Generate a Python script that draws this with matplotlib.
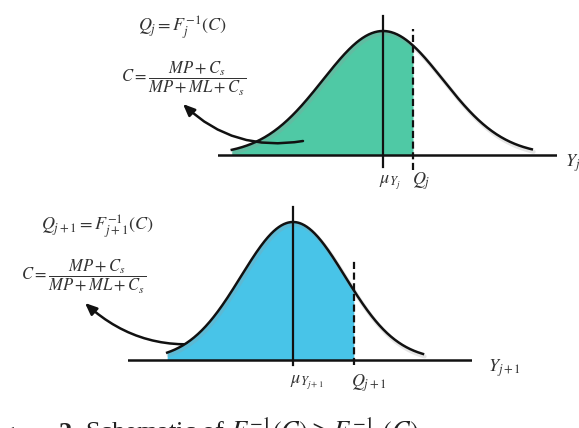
import numpy as np
import matplotlib
matplotlib.use("Agg")
import matplotlib.pyplot as plt

plt.rcParams['mathtext.fontset'] = 'stix'
plt.rcParams['font.family'] = 'DejaVu Sans'

W, H = 579, 428

# top panel: demand of period j
top_mean = 0.0
top_sd = 1.0
top_q = 0.5
top_range = (-2.52, 2.48)
top_color = '#4FC9A5'

# bottom panel: demand of period j+1
bot_mean = 0.0
bot_sd = 1.0
bot_q = 1.17
bot_range = (-2.42, 2.50)
bot_color = '#48C4E8'

ink = '#111111'
txt = '#333333'


def pdf(x, m, s):
    return np.exp(-0.5 * ((x - m) / s) ** 2) / (s * np.sqrt(2 * np.pi))


def panel(left, right, top, bottom, mu_px, base_px, sx, sy):
    # axes placed in image pixels, data scaled sx / sy px per unit
    ax = fig.add_axes([left / W, 1 - bottom / H, (right - left) / W, (bottom - top) / H])
    ax.set_xlim((left - mu_px) / sx, (right - mu_px) / sx)
    ax.set_ylim(-(bottom - base_px) / sy, (base_px - top) / sy)
    ax.axis('off')
    return ax


def draw(ax, m, s, q, rng, color, sy, mean_top, mean_bot, dash_top, dash_bot):
    x = np.linspace(rng[0], rng[1], 400)
    y = pdf(x, m, s)
    xs = x[x <= q]
    xs = np.append(xs, q)
    ax.fill_between(xs, pdf(xs, m, s), 0, color=color, lw=0, zorder=1)
    ax.plot(x + 0.03, y - 2.5 / sy, color='#999999', lw=3, alpha=0.25, zorder=1.5,
            solid_capstyle='round')
    ax.plot(x, y, color=ink, lw=1.8, zorder=3)
    ax.axhline(0, color=ink, lw=1.8, zorder=3)
    ax.plot([m, m], [mean_bot / sy, pdf(m, m, s) + mean_top / sy], color=ink, lw=1.6, zorder=3)
    ax.plot([q, q], [dash_bot / sy, pdf(q, m, s) + dash_top / sy], color=ink, lw=1.6,
            ls=(0, (3.2, 1.6)), zorder=3)


fig = plt.figure(figsize=(W / 100, H / 100), dpi=100)

# top panel
sy_top = 124 / pdf(0, 0, 1)
ax1 = panel(218, 557, 5, 185, 383, 155, 60, sy_top)
draw(ax1, top_mean, top_sd, top_q, top_range, top_color, sy_top, 15, -12, 17, -15)

# bottom panel
sy_bot = 138 / pdf(0, 0, 1)
ax2 = panel(128, 472, 195, 375, 293, 360, 52, sy_bot)
draw(ax2, bot_mean, bot_sd, bot_q, bot_range, bot_color, sy_bot, 15, -5, 29, -5)


def ftext(x, y, s, size, **kw):
    fig.text(x / W, 1 - y / H, s, fontsize=size, color=kw.pop('color', txt),
             ha=kw.pop('ha', 'center'), va=kw.pop('va', 'center'), **kw)


# formulas
ftext(182, 28, r'$Q_j = F_j^{-1}(C)$', 13)
ftext(184, 79, r'$C = \dfrac{MP + C_s}{MP + ML + C_s}$', 12)
ftext(97, 227, r'$Q_{j+1} = F_{j+1}^{-1}(C)$', 13)
ftext(84, 277, r'$C = \dfrac{MP + C_s}{MP + ML + C_s}$', 12)

# axis labels
ftext(390, 183, r'$\mu_{Y_j}$', 13)
ftext(421, 181, r'$Q_j$', 13)
ftext(565, 163, r'$Y_j$', 13, ha='left')
ftext(307, 383, r'$\mu_{Y_{j+1}}$', 13)
ftext(369, 383, r'$Q_{j+1}$', 13)
ftext(488, 368, r'$Y_{j+1}$', 13, ha='left')

# arrows from the shaded area back to the formulas
arrow = dict(arrowstyle='-|>,head_length=0.7,head_width=0.3', color=ink, lw=1.8,
             connectionstyle='arc3,rad=-0.25', shrinkA=0, shrinkB=0)
ax1.annotate('', xy=(183, H - 104), xycoords='figure pixels',
             xytext=(303, H - 141), textcoords='figure pixels', arrowprops=arrow)
ax1.annotate('', xy=(85, H - 303), xycoords='figure pixels',
             xytext=(220, H - 341), textcoords='figure pixels', arrowprops=arrow)

# caption, cut by the lower edge as in the source
fig.text(79 / W, 1 - 440 / H, 'Figure 2.', fontsize=19, family='Liberation Serif',
         weight='bold', ha='right', va='baseline', color='#222222')
fig.text(85 / W, 1 - 440 / H, r'Schematic of $F_j^{-1}(C) \geq F_{j+1}^{-1}(C)$',
         fontsize=19, family='Liberation Serif', ha='left', va='baseline', color='#222222')

fig.savefig('out.png', dpi=100)
